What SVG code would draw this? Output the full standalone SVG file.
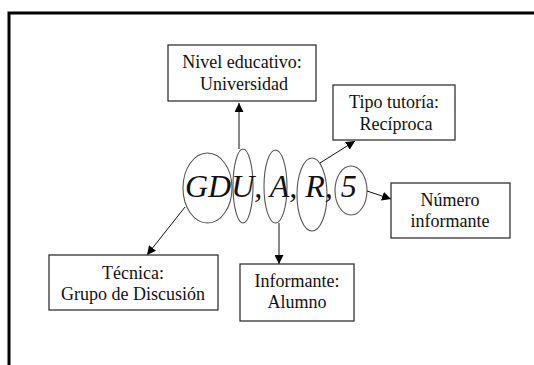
<svg xmlns="http://www.w3.org/2000/svg" width="534" height="365" viewBox="0 0 534 365">
<defs>
<style>
.box{fill:#fff;stroke:#222;stroke-width:1.2}
.lbl{font-family:"Liberation Serif","Times New Roman",serif;font-size:18px;fill:#111;text-anchor:middle}
.ell{fill:none;stroke:#555;stroke-width:1.1}
.con{stroke:#111;stroke-width:1;fill:none;marker-end:url(#ah)}
.big{font-family:"Liberation Serif","Times New Roman",serif;font-style:italic;font-size:32px;fill:#111}
</style>
<marker id="ah" viewBox="0 0 10 10" refX="10" refY="5" markerWidth="9" markerHeight="9" markerUnits="userSpaceOnUse" orient="auto">
<path d="M0,0 L10,5 L0,10 Z" fill="#000"/>
</marker>
</defs>
<rect width="534" height="365" fill="#fff"/>
<g id="frame">
<path d="M9,365 L9,13 L534,13" fill="none" stroke="#000" stroke-width="3"/>
</g>
<g id="code">
<ellipse class="ell" cx="207.5" cy="188" rx="24.5" ry="35"/>
<ellipse class="ell" cx="243" cy="186" rx="10" ry="37"/>
<ellipse class="ell" cx="275.5" cy="186.5" rx="11.5" ry="36.5"/>
<ellipse class="ell" cx="312" cy="194.5" rx="15" ry="36.5"/>
<ellipse class="ell" cx="351" cy="190.5" rx="16" ry="24.5"/>
<text class="big" x="185" y="197">GDU, A, R, 5</text>
</g>
<g id="connectors">
<line class="con" x1="239" y1="149" x2="239" y2="103"/>
<line class="con" x1="320" y1="163" x2="355" y2="141"/>
<line class="con" x1="367" y1="191" x2="391" y2="199"/>
<line class="con" x1="185" y1="207" x2="147" y2="255"/>
<line class="con" x1="279" y1="223" x2="279" y2="264"/>
</g>
<g id="nivel">
<rect class="box" x="168" y="45" width="148" height="56"/>
<text class="lbl" x="242" y="68">Nivel educativo:</text>
<text class="lbl" x="244" y="90">Universidad</text>
</g>
<g id="tipo">
<rect class="box" x="333" y="85" width="122" height="55"/>
<text class="lbl" x="394" y="108">Tipo tutoría:</text>
<text class="lbl" x="396" y="130">Recíproca</text>
</g>
<g id="numero">
<rect class="box" x="391" y="183" width="119" height="55"/>
<text class="lbl" x="450" y="206">Número</text>
<text class="lbl" x="450" y="227">informante</text>
</g>
<g id="tecnica">
<rect class="box" x="49" y="255" width="169" height="55"/>
<text class="lbl" x="133" y="279">Técnica:</text>
<text class="lbl" x="133" y="300">Grupo de Discusión</text>
</g>
<g id="informante">
<rect class="box" x="240" y="264" width="114" height="57"/>
<text class="lbl" x="297" y="287">Informante:</text>
<text class="lbl" x="297" y="308">Alumno</text>
</g>
</svg>
